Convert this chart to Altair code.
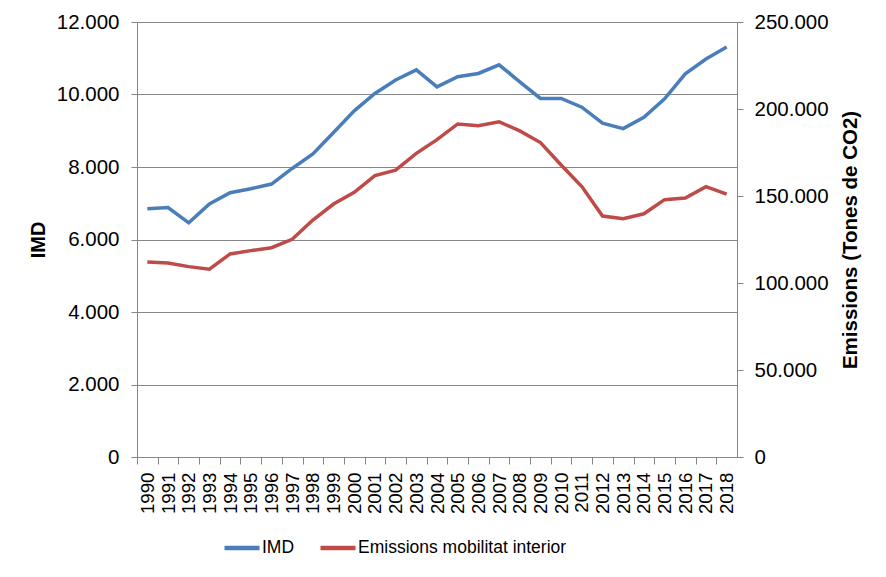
import altair as alt
import pandas as pd

years = [str(y) for y in [1990, 1991, 1992, 1993, 1994, 1995, 1996, 1997, 1998, 1999,
                          2000, 2001, 2002, 2003, 2004, 2005, 2006, 2007, 2008, 2009,
                          2010, 2011, 2012, 2013, 2014, 2015, 2016, 2017, 2018]]
imd = [6850, 6880, 6460, 6980, 7290, 7400, 7530, 7960, 8360, 8950,
       9550, 10030, 10400, 10680, 10210, 10490, 10580, 10820, 10350, 9890,
       9890, 9650, 9210, 9060, 9370, 9880, 10570, 10980, 11310]
emissions = [112000, 111500, 109400, 107900, 116700, 118600, 120300, 125100, 136200, 145400,
             152100, 161700, 164900, 174500, 182400, 191400, 190400, 192700, 187400, 180700,
             167800, 155400, 138500, 137000, 139800, 147900, 148900, 155400, 151100]
series_names = ["IMD", "Emissions mobilitat interior"]
series_colors = ["#4A7EBB", "#BE4B48"]
left_ticks = [0, 2000, 4000, 6000, 8000, 10000, 12000]
right_ticks = [0, 50000, 100000, 150000, 200000, 250000]

df = pd.DataFrame({
    "year": years + years,
    "value": imd + emissions,
    "series": [series_names[0]] * len(years) + [series_names[1]] * len(years),
})

W, H = 600, 435
half = W / len(years) / 2
FONT = "Liberation Sans"
GREY = "#868686"
fmt = "replace(format(datum.value, ','), ',', '.')"

xenc = alt.X(
    "year:O",
    sort=years,
    scale=alt.Scale(type="point", padding=0.5),
    axis=alt.Axis(
        title=None, labelAngle=270, tickOffset=-half, labelOffset=half,
        tickSize=7, labelPadding=8, domainColor=GREY, tickColor=GREY,
        labelFontSize=18.7, grid=False, labelOverlap=False,
    ),
)

legend = alt.Legend(
    title=None, orient="none", direction="horizontal", legendX=85, legendY=506,
    symbolType="stroke", symbolSize=1225, symbolStrokeWidth=4.5,
    labelFontSize=17.5, columnPadding=16, labelOffset=0, labelLimit=0,
)
color = alt.Color("series:N", scale=alt.Scale(domain=series_names, range=series_colors),
                  legend=legend)

base = alt.Chart(df)

left = base.transform_filter(alt.datum.series == series_names[0]).mark_line(strokeWidth=3.5).encode(
    x=xenc,
    y=alt.Y("value:Q", scale=alt.Scale(domain=[0, 12000], nice=False),
            axis=alt.Axis(title="IMD", values=left_ticks, labelExpr=fmt, orient="left",
                          tickSize=6, labelPadding=12, titlePadding=8,
                          grid=True, gridColor=GREY, domainColor=GREY, tickColor=GREY,
                          labelFontSize=20.5, titleFontSize=20, titleFontWeight="bold")),
    color=color,
)

right = base.transform_filter(alt.datum.series == series_names[1]).mark_line(strokeWidth=3.5).encode(
    x=xenc,
    y=alt.Y("value:Q", scale=alt.Scale(domain=[0, 250000], nice=False),
            axis=alt.Axis(title="Emissions (Tones de CO2)", values=right_ticks, labelExpr=fmt,
                          orient="right", tickSize=6, labelPadding=11, titlePadding=12,
                          titleAngle=270, titleBaseline="top", grid=False,
                          domainColor=GREY, tickColor=GREY,
                          labelFontSize=20.5, titleFontSize=20.5, titleFontWeight="bold")),
    color=color,
)

chart = alt.layer(left, right).resolve_scale(y="independent").properties(
    width=W, height=H,
    autosize=alt.AutoSizeParams(type="none"),
    padding={"left": 129, "top": 14, "right": 136, "bottom": 108},
).configure(font=FONT).configure_view(stroke=None).configure_axis(
    labelColor="black", titleColor="black", labelFont=FONT, titleFont=FONT,
).configure_legend(labelColor="black", labelFont=FONT)

chart.save("out.html", embed_options={"renderer": "svg", "actions": False})
